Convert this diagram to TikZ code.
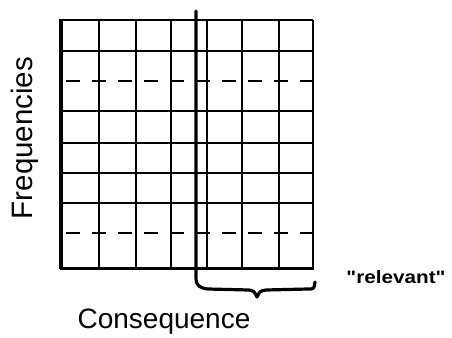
\documentclass[tikz,border=0pt]{standalone}
\usepackage{fontspec}
\setmainfont{Liberation Sans}
\newfontfamily\relfont[Ligatures=TeXOff]{Liberation Sans}
\tikzset{
  gridline/.style={line width=2.1pt, black},
  border/.style={line width=3.6pt, black},
  dashline/.style={line width=1.4pt, black, dash pattern=on 14pt off 12pt},
  brace/.style={line width=3.2pt, black, line cap=round, line join=round},
  label/.style={inner sep=0pt, text=black}
}
\begin{document}
\begin{tikzpicture}[x=1pt,y=-1pt]
\useasboundingbox (0,0) rectangle (452,337);
% vertical grid lines
\foreach \x in {99,136,171,207,242,279} \draw[gridline] (\x,20) -- (\x,268);
\draw[line width=1.4pt] (313,20) -- (313,268);
% horizontal grid lines
\foreach \y in {51,111,143,173,203} \draw[gridline] (61,\y) -- (313,\y);
\draw[gridline] (61,20) -- (313,20);
\foreach \y in {81,233} \draw[dashline] (66,\y) -- (313,\y);
% borders
\draw[border] (61,19) -- (61,269);
\draw[line width=3pt] (60,268) -- (314,268);
% thick divider and brace
\coordinate (top) at (196,11);
\coordinate (tip) at (257,297);
\draw[brace] (top) -- (196,278) .. controls (196,286) and (200,288) .. (208,289)
  -- (249,290) .. controls (254,291) .. (tip) .. controls (260,291) .. (266,290)
  -- (308,289) .. controls (314,289) .. (315,282);
% labels
\node[label, font=\fontsize{29.5}{32}\selectfont, rotate=90] (freq) at (25,138) {Frequencies};
\node[label, font=\fontsize{28}{30}\selectfont] (cons) at (164,322) {Consequence};
\node[label, font=\relfont\bfseries\fontsize{18}{20}\selectfont] (rel) at (396,277) {\scalebox{1.15}[1]{"relevant"}};
\end{tikzpicture}
\end{document}
